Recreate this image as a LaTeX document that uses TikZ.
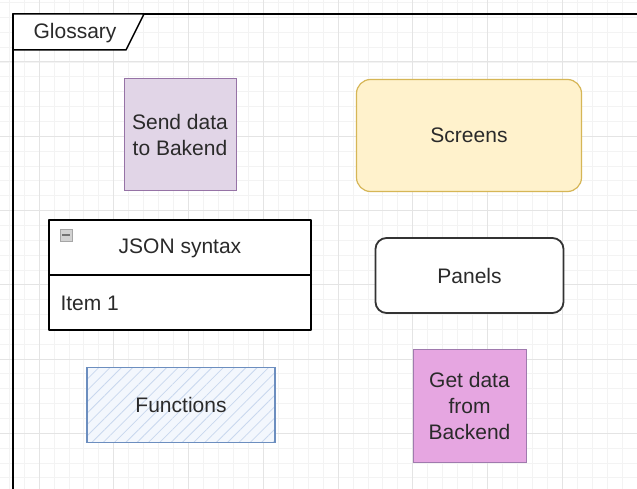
\documentclass[tikz,border=0pt]{standalone}
\usepackage{fontspec}
\setmainfont{Liberation Sans}
\usetikzlibrary{patterns.meta}
\definecolor{gridminor}{HTML}{F3F3F3}
\definecolor{gridmajor}{HTML}{E4E4E4}
\definecolor{purplefill}{HTML}{E1D5E7}
\definecolor{purpleline}{HTML}{9673A6}
\definecolor{yellowfill}{HTML}{FFF2CC}
\definecolor{yellowline}{HTML}{D6B656}
\definecolor{bluefill}{HTML}{F3F7FD}
\definecolor{blueline}{HTML}{6C8EBF}
\definecolor{hatchcol}{HTML}{C9D8EE}
\definecolor{pinkfill}{HTML}{E6A6E1}
\definecolor{pinkline}{HTML}{A07AAE}
\definecolor{txt}{HTML}{2A2A2A}
\tikzset{
  x=1pt, y=-1pt,
  lbl/.style={font=\fontsize{21}{26}\selectfont, text=txt, align=center},
  box/.style={draw, line width=1.2pt, inner sep=0pt, outer sep=0pt, lbl},
  gminor/.style={draw=gridminor, line width=0.8pt},
  gmajor/.style={draw=gridmajor, line width=1pt},
  sketch/.style={draw=black, line width=1.5pt, line join=round}
}
\begin{document}
\begin{tikzpicture}
\useasboundingbox (0,0) rectangle (637,489);
\fill[white] (0,0) rectangle (637,489);
% grid
\foreach \i in {-3,...,42} { \draw[gminor] ({39+\i*14.95},0) -- ({39+\i*14.95},489); }
\foreach \i in {-5,...,29} { \draw[gminor] (0,{62+\i*14.85}) -- (637,{62+\i*14.85}); }
\foreach \i in {-1,...,8} { \draw[gmajor] ({39+\i*74.75},0) -- ({39+\i*74.75},489); }
\foreach \i in {-1,...,6} { \draw[gmajor] (0,{62+\i*74.25}) -- (637,{62+\i*74.25}); }
% frame
\coordinate (ftl) at (13,14);
\coordinate (ftr) at (637,14);
\coordinate (fbl) at (13,489);
\draw[sketch] (ftr) -- (ftl) -- (fbl);
\draw[sketch, fill=white] (13,14) -- (144,14) -- (126,50) -- (13,50) -- cycle;
\node[lbl, anchor=center] (glossary) at (75,33) {Glossary};
% send data
\node[box, draw=purpleline, line width=1pt, fill=purplefill, minimum width=112pt, minimum height=112pt] (send) at (180,135) {Send data\\to Bakend};
% screens
\node[box, draw=yellowline, fill=yellowfill, rounded corners=14pt, minimum width=225pt, minimum height=112pt] (screens) at (469,135.5) {Screens};
% JSON swimlane
\draw[sketch, line width=1.3pt, fill=white] (49,220) rectangle (311,330);
\draw[sketch, line width=1.3pt] (49,275) -- (311,275);
\node[lbl] (json) at (180,248) {JSON syntax};
\node[lbl, anchor=west] (item) at (57,303) {Item 1};
\node[draw=gray!70, fill=gray!35, line width=0.6pt, minimum width=12pt, minimum height=12pt, inner sep=0pt] (minus) at (66,235) {};
\draw[gray!90!black, line width=1.2pt] ([xshift=2.5pt]minus.west) -- ([xshift=-2.5pt]minus.east);
% panels
\node[box, draw=black!80, line width=1.8pt, fill=white, rounded corners=11pt, minimum width=188pt, minimum height=75pt] (panels) at (469.5,275.5) {Panels};
% functions
\node[box, draw=blueline, preaction={fill=bluefill}, pattern={Lines[angle=45,distance=8pt,line width=0.8pt]}, pattern color=hatchcol, minimum width=188pt, minimum height=75pt] (functions) at (181,405) {Functions};
% get data
\node[box, draw=pinkline, line width=1pt, fill=pinkfill, minimum width=113pt, minimum height=113pt] (getdata) at (469.5,405.5) {Get data\\from\\Backend};
\end{tikzpicture}
\end{document}
